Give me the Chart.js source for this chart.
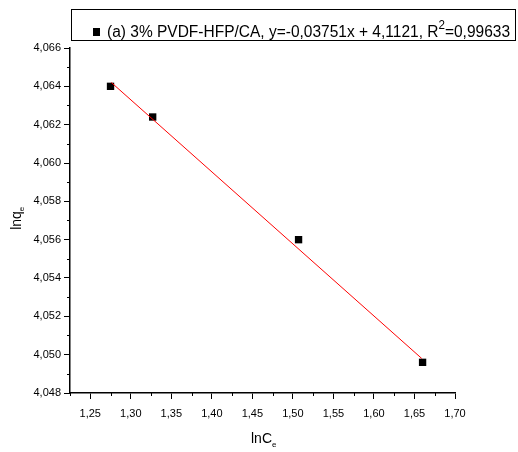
<!DOCTYPE html>
<html>
<head>
<meta charset="utf-8">
<script src="https://cdn.jsdelivr.net/npm/chart.js@4/dist/chart.umd.min.js"></script>
<style>
  html, body { margin: 0; padding: 0; background: #fff; }
  #wrap { width: 518px; height: 452px; }
</style>
</head>
<body>
<div id="wrap"><canvas id="chart" width="518" height="452"></canvas></div>
<script>
// ─── Données ─────────────────────────────────────────────────────────────
const lnCe   = [1.275, 1.327, 1.507, 1.660];
const lnQe   = [4.0640, 4.0624, 4.0560, 4.0496];
// droite de régression (extrémités)
const fitX   = [1.276, 1.659];
const fitY   = [4.0642, 4.0498];
const xTicks = [1.25, 1.30, 1.35, 1.40, 1.45, 1.50, 1.55, 1.60, 1.65, 1.70];
const yTicks = [4.048, 4.050, 4.052, 4.054, 4.056, 4.058, 4.060, 4.062, 4.064, 4.066];
const X_MIN = 1.225, X_MAX = 1.70;
const Y_MIN = 4.048, Y_MAX = 4.066;

const legendMain = '(a) 3% PVDF-HFP/CA, y=-0,03751x + 4,1121, R';
const legendSup  = '2';
const legendEnd  = '=0,99633';

const FONT = '"Liberation Sans", Arial, sans-serif';

function fmt(v, d) { return v.toFixed(d).replace('.', ','); }

// ─── Plugin : ticks mineurs, titres d'axes, légende encadrée ─────────────
const decor = {
  id: 'decor',
  afterDraw(chart) {
    const ctx = chart.ctx;
    const xs = chart.scales.x, ys = chart.scales.y;
    const area = chart.chartArea;
    ctx.save();
    ctx.strokeStyle = '#000';
    ctx.lineWidth = 1;

    // ticks mineurs x
    const xMinor = [X_MIN].concat(xTicks.slice(0, -1).map((v, i) => (v + xTicks[i + 1]) / 2));
    xMinor.forEach((v) => {
      const px = Math.round(xs.getPixelForValue(v)) + 0.5;
      ctx.beginPath(); ctx.moveTo(px, area.bottom); ctx.lineTo(px, area.bottom + 3); ctx.stroke();
    });
    // ticks mineurs y
    const yMinor = yTicks.slice(0, -1).map((v, i) => (v + yTicks[i + 1]) / 2);
    yMinor.forEach((v) => {
      const py = Math.round(ys.getPixelForValue(v)) + 0.5;
      ctx.beginPath(); ctx.moveTo(area.left, py); ctx.lineTo(area.left - 3, py); ctx.stroke();
    });

    ctx.fillStyle = '#000';
    // titre axe x : lnC_e
    ctx.textBaseline = 'alphabetic';
    ctx.font = '14px ' + FONT;
    const tx = 'lnC';
    const w = ctx.measureText(tx).width;
    const cx = (area.left + area.right) / 2 + 2;
    ctx.fillText(tx, cx - w / 2 - 3, 443);
    ctx.font = '8px ' + FONT;
    ctx.fillText('e', cx + w / 2 - 3, 447);

    // titre axe y : lnq_e (pivoté)
    ctx.save();
    ctx.translate(21, (area.top + area.bottom) / 2);
    ctx.rotate(-Math.PI / 2);
    ctx.font = '14px ' + FONT;
    const ty = 'lnq';
    const wy = ctx.measureText(ty).width;
    ctx.fillText(ty, -wy / 2, 0);
    ctx.font = '8px ' + FONT;
    ctx.fillText('e', wy / 2, 3);
    ctx.restore();

    // légende encadrée
    ctx.lineWidth = 1;
    ctx.strokeRect(71.5, 9.5, 444, 31);
    ctx.fillRect(93, 28, 7, 8);
    const big = '16px ' + FONT, small = '12px ' + FONT;
    ctx.font = big;
    const w1 = ctx.measureText(legendMain).width, w3 = ctx.measureText(legendEnd).width;
    ctx.font = small;
    const w2 = ctx.measureText(legendSup).width;
    const sx = 403 / (w1 + w2 + w3);
    ctx.save();
    ctx.translate(107, 37);
    ctx.scale(sx, 1);
    ctx.font = big;
    ctx.fillText(legendMain, 0, 0);
    ctx.font = small;
    ctx.fillText(legendSup, w1, -8);
    ctx.font = big;
    ctx.fillText(legendEnd, w1 + w2, 0);
    ctx.restore();
    ctx.restore();
  },
};

new Chart(document.getElementById('chart'), {
  type: 'scatter',
  data: {
    datasets: [
      {
        label: 'fit',
        type: 'line',
        data: fitX.map((x, i) => ({ x, y: fitY[i] })),
        borderColor: '#ff0000',
        borderWidth: 1,
        pointRadius: 0,
        fill: false,
      },
      {
        label: '(a) 3% PVDF-HFP/CA',
        data: lnCe.map((x, i) => ({ x, y: lnQe[i] })),
        pointStyle: 'rect',
        pointRadius: 5.2,
        backgroundColor: '#000',
        borderColor: '#000',
        borderWidth: 0,
      },
    ],
  },
  options: {
    responsive: false,
    animation: false,
    devicePixelRatio: 1,
    layout: { padding: { top: 48, right: 63, left: 0, bottom: 0 } },
    plugins: { legend: { display: false }, tooltip: { enabled: false } },
    scales: {
      x: {
        type: 'linear',
        min: X_MIN, max: X_MAX,
        afterBuildTicks: (s) => { s.ticks = xTicks.map((v) => ({ value: v })); },
        afterFit: (s) => { s.height = 59; },
        border: { display: true, color: '#000', width: 1.5 },
        grid: { display: true, drawOnChartArea: false, drawTicks: true, tickLength: 6, color: '#000' },
        ticks: {
          color: '#000', padding: 8, maxRotation: 0, autoSkip: false,
          font: { family: FONT, size: 11 },
          callback: (v) => fmt(v, 2),
        },
      },
      y: {
        type: 'linear',
        min: Y_MIN, max: Y_MAX,
        afterBuildTicks: (s) => { s.ticks = yTicks.map((v) => ({ value: v })); },
        afterFit: (s) => { s.width = 70; },
        border: { display: true, color: '#000', width: 1.5 },
        grid: { display: true, drawOnChartArea: false, drawTicks: true, tickLength: 6, color: '#000' },
        ticks: {
          color: '#000', padding: 3, autoSkip: false,
          font: { family: FONT, size: 11 },
          callback: (v) => fmt(v, 3),
        },
      },
    },
  },
  plugins: [decor],
});
</script>
</body>
</html>
